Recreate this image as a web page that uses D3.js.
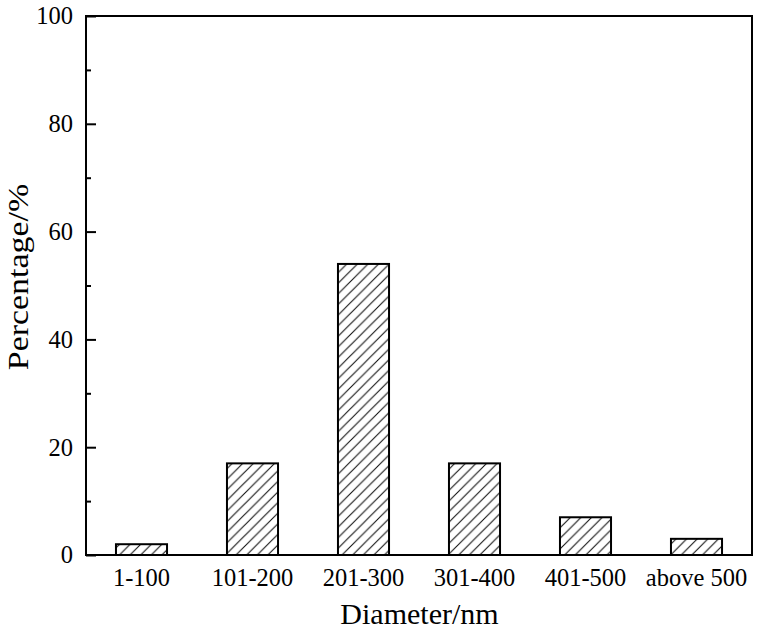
<!DOCTYPE html>
<html><head><meta charset="utf-8">
<script src="https://cdn.jsdelivr.net/npm/d3@7"></script>
<style>body{margin:0;background:#fff}svg{display:block}</style>
</head><body>
<script>
const categories = ["1-100","101-200","201-300","301-400","401-500","above 500"];
const percentages = [2, 17, 54, 17, 7, 3];
const yMajorTicks = [0, 20, 40, 60, 80, 100];
const yMinorTicks = [10, 30, 50, 70, 90];
const xTitle = "Diameter/nm";
const yTitle = "Percentage/%";

const W = 763, H = 631;
const m = {left: 86, right: 11, top: 16, bottom: 76};
const iw = W - m.left - m.right, ih = H - m.top - m.bottom;
const font = "'Liberation Serif','Times New Roman',serif";

const svg = d3.select("body").append("svg").attr("width", W).attr("height", H);
const defs = svg.append("defs");
const s = 10.6;
defs.append("pattern").attr("id","hatch").attr("patternUnits","userSpaceOnUse")
  .attr("width", s).attr("height", s)
  .append("path")
  .attr("d", `M0,${s} L${s},0 M${-s/4},${s/4} L${s/4},${-s/4} M${s*3/4},${s*5/4} L${s*5/4},${s*3/4}`)
  .attr("stroke","#111").attr("stroke-width",1.1);

const g = svg.append("g").attr("transform", `translate(${m.left},${m.top})`);
const x = d3.scaleBand().domain(categories).range([0, iw]).paddingInner(0.54).paddingOuter(0.27);
const y = d3.scaleLinear().domain([0, 100]).range([ih, 0]);

g.selectAll("rect.bar").data(categories).enter().append("rect")
  .attr("class","bar")
  .attr("x", d => x(d)).attr("width", x.bandwidth())
  .attr("y", (d,i) => y(percentages[i])).attr("height", (d,i) => ih - y(percentages[i]))
  .attr("fill","url(#hatch)").attr("stroke","#000").attr("stroke-width",2);

// frame
g.append("rect").attr("x",0).attr("y",0).attr("width",iw).attr("height",ih)
  .attr("fill","none").attr("stroke","#000").attr("stroke-width",2);

// y axis ticks inward
const yAxis = d3.axisLeft(y).tickValues(yMajorTicks).tickSize(-10).tickPadding(13).tickFormat(d3.format("d"));
const ya = g.append("g").call(yAxis);
ya.select(".domain").remove();
ya.selectAll(".tick line").attr("stroke","#000").attr("stroke-width",2);
ya.selectAll(".tick text").attr("font-family",font).attr("font-size",24.5).attr("fill","#000");
const yMinor = g.append("g").call(d3.axisLeft(y).tickValues(yMinorTicks).tickSize(-5).tickFormat(""));
yMinor.select(".domain").remove();
yMinor.selectAll(".tick line").attr("stroke","#000").attr("stroke-width",2);

// x axis labels
const xa = g.append("g").attr("transform",`translate(0,${ih})`)
  .call(d3.axisBottom(x).tickSize(0).tickPadding(14));
xa.select(".domain").remove();
xa.selectAll(".tick text").attr("font-family",font).attr("font-size",24.5).attr("fill","#000");

svg.append("text").attr("x", 419.5).attr("y", 624)
  .attr("text-anchor","middle").attr("font-family",font).attr("font-size",30).text(xTitle);
svg.append("text").attr("transform",`translate(28,277) rotate(-90) scale(1.13,1)`)
  .attr("text-anchor","middle").attr("font-family",font).attr("font-size",30).text(yTitle);
</script>
</body></html>
